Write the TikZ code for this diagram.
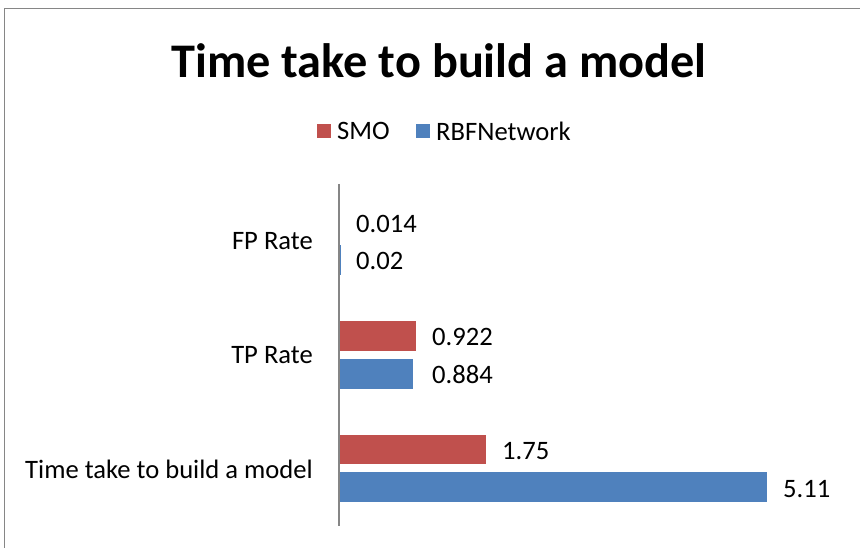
\documentclass[tikz,border=0pt]{standalone}
\usepackage{fontspec}
\setmainfont{Carlito}
\definecolor{smo}{RGB}{192,80,77}
\definecolor{rbf}{RGB}{79,129,189}
\definecolor{frame}{RGB}{134,134,134}
\begin{document}
\begin{tikzpicture}[x=1pt,y=-1pt,
  lbl/.style={font=\fontsize{26.6}{30}\selectfont, inner sep=0pt},
  cat/.style={lbl, anchor=east},
  val/.style={lbl, anchor=west},
  smobar/.style={fill=smo, draw=none},
  rbfbar/.style={fill=rbf, draw=none}]
\useasboundingbox (0,0) rectangle (860,548);
\fill[white] (0,0) rectangle (860,548);
% frame
\draw[frame, line width=1.5pt] (4.5,560) -- (4.5,8.5) -- (870,8.5);
% title
\node[inner sep=0pt, font=\fontsize{48.3}{54}\bfseries\selectfont] (title) at (439,61) {Time take to build a model};
% legend
\fill[smo] (317,124) rectangle (331,138);
\node[lbl, anchor=west] (lsmo) at (337,131) {SMO};
\fill[rbf] (416,124) rectangle (430,138);
\node[lbl, anchor=west] (lrbf) at (436,131) {RBFNetwork};
% bars  (83.8 px per unit, origin x=339)
\fill[smobar] (339,207) rectangle ({339+83.8*0.014},237);
\fill[rbfbar] (339,245) rectangle ({339+83.8*0.02},275);
\fill[smobar] (339,321) rectangle ({339+83.8*0.922},351);
\fill[rbfbar] (339,359) rectangle ({339+83.8*0.884},389);
\fill[smobar] (339,435) rectangle ({339+83.8*1.75},464);
\fill[rbfbar] (339,472) rectangle ({339+83.8*5.11},502);
% axis
\draw[frame, line width=1.5pt] (339,184) coordinate (atop) -- (339,526) coordinate (abot);
% category labels
\node[cat] (c1) at (313,241) {FP Rate};
\node[cat] (c2) at (313,355) {TP Rate};
\node[cat] (c3) at (313,469) {Time take to build a model};
% value labels
\node[val] (v1) at (356,224) {0.014};
\node[val] (v2) at (356,261) {0.02};
\node[val] (v3) at (432,337) {0.922};
\node[val] (v4) at (432,375) {0.884};
\node[val] (v5) at (502,451) {1.75};
\node[val] (v6) at (783,489) {5.11};
\end{tikzpicture}
\end{document}
